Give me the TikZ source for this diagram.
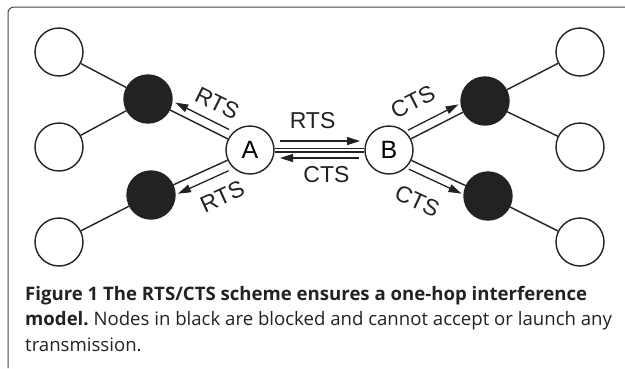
\documentclass[tikz,border=0pt]{standalone}
\usepackage{fontspec}
\setmainfont{Liberation Sans}
\newfontfamily\capfont{Open Sans}
\usetikzlibrary{arrows.meta,calc}
\definecolor{ink}{RGB}{34,34,34}
\definecolor{rim}{RGB}{70,70,70}

\tikzset{
  station/.style={circle,draw=ink,line width=1.4pt,minimum size=48pt,inner sep=0pt},
  blocked/.style={station,fill=ink},
  link/.style={draw=ink,line width=1.4pt},
  sig/.style={-{Triangle[length=13pt,width=8pt]},draw=ink,line width=1.3pt},
  lbl/.style={font=\fontsize{23}{23}\selectfont,text=ink,inner sep=0pt,sloped},
  capline/.style={font=\capfont\fontsize{18.6}{22}\selectfont,text=ink,inner sep=0pt,anchor=base west}
}

\begin{document}
\begin{tikzpicture}[x=1pt,y=-1pt]
    \useasboundingbox (0,0) rectangle (625,368);
    % panel border, open to the right and bottom
    \draw[rim,line width=1pt,rounded corners=6pt] (8,368) -- (8,7) -- (630,7);

    % sender and receiver
    \node[station,font=\fontsize{25}{25}\selectfont] (A) at (250,150) {A};
    \node[station,font=\fontsize{25}{25}\selectfont] (B) at (389,150) {B};

    % blocked neighbours
    \node[blocked] (bkTL) at (148,99) {};
    \node[blocked] (bkBL) at (151,195) {};
    \node[blocked] (bkTR) at (485,101) {};
    \node[blocked] (bkBR) at (488,196) {};

    % outer nodes
    \node[station] (wTL) at (59,52) {};
    \node[station] (wML) at (59,147) {};
    \node[station] (wBL) at (59,242) {};
    \node[station] (wTR) at (580,52) {};
    \node[station] (wMR) at (580,147) {};
    \node[station] (wBR) at (580,242) {};

    % links
    \draw[link] (wTL) -- (bkTL) -- (wML);
    \draw[link] (bkBL) -- (wBL);
    \draw[link] (wTR) -- (bkTR) -- (wMR);
    \draw[link] (bkBR) -- (wBR);
    \draw[link] (A) -- (bkTL);
    \draw[link] (A) -- (bkBL);
    \draw[link] (B) -- (bkTR);
    \draw[link] (B) -- (bkBR);
    \draw[link,double=white,double distance=2.2pt] (A) -- (B);

    % RTS / CTS exchange between A and B
    \draw[sig] ($(A)!30pt!(B)!9pt!90:(B)$) -- ($(B)!29pt!(A)!9pt!-90:(A)$);
    \path ($(A)!29pt!90:(B)$) -- ($(B)!29pt!-90:(A)$) node[lbl,pos=.45] {RTS};
    \draw[sig] ($(B)!30pt!(A)!8pt!90:(A)$) -- ($(A)!30pt!(B)!8pt!-90:(B)$);
    \path ($(B)!25pt!90:(A)$) -- ($(A)!25pt!-90:(B)$) node[lbl,pos=.45] {CTS};

    % RTS overheard on the left
    \draw[sig] ($(A)!28pt!(bkTL)!9pt!-90:(bkTL)$) -- ($(bkTL)!26pt!(A)!9pt!90:(A)$);
    \path ($(A)!27pt!-90:(bkTL)$) -- ($(bkTL)!27pt!90:(A)$) node[lbl,pos=.44] {RTS};
    \draw[sig] ($(A)!28pt!(bkBL)!10pt!90:(bkBL)$) -- ($(bkBL)!25pt!(A)!10pt!-90:(A)$);
    \path ($(A)!31pt!90:(bkBL)$) -- ($(bkBL)!31pt!-90:(A)$) node[lbl,pos=.41] {RTS};

    % CTS overheard on the right
    \draw[sig] ($(B)!26pt!(bkTR)!9pt!90:(bkTR)$) -- ($(bkTR)!25pt!(B)!9pt!-90:(B)$);
    \path ($(B)!32pt!90:(bkTR)$) -- ($(bkTR)!32pt!-90:(B)$) node[lbl,pos=.40] {CTS};
    \draw[sig] ($(B)!26pt!(bkBR)!9pt!-90:(bkBR)$) -- ($(bkBR)!25pt!(B)!9pt!90:(B)$);
    \path ($(B)!34pt!-90:(bkBR)$) -- ($(bkBR)!34pt!90:(B)$) node[lbl,pos=.43] {CTS};

    % caption
    \node[capline] (cap1) at (25,300) {\bfseries Figure 1 The RTS/CTS scheme ensures a one-hop interference};
    \node[capline] (cap2) at (25,325.5) {\bfseries model.\ \mdseries Nodes in black are blocked and cannot accept or launch any};
    \node[capline] (cap3) at (25,351) {transmission.};
\end{tikzpicture}
\end{document}
